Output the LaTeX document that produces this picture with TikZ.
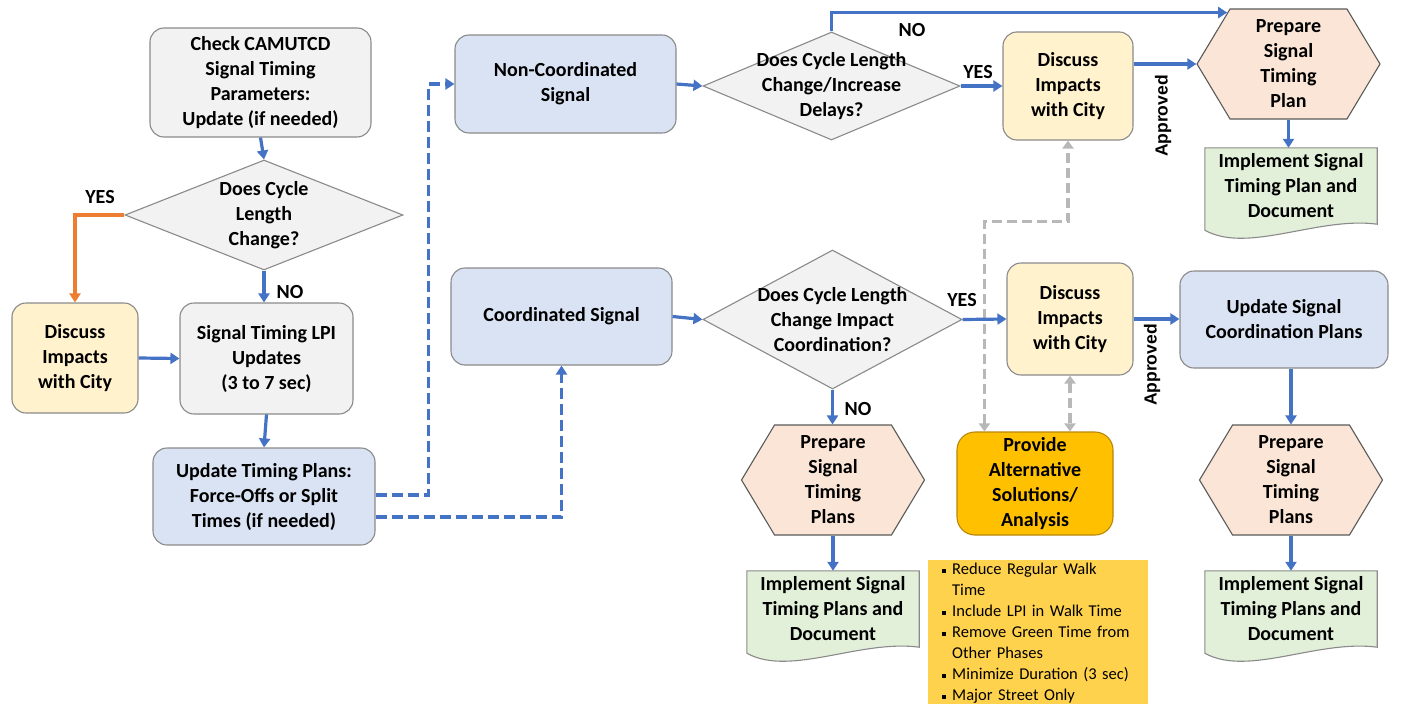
\documentclass[tikz,border=0pt]{standalone}
\usepackage{fontspec}
\setmainfont{Carlito}
\newfontfamily\arialfont{Liberation Sans}
\usepackage{xcolor}
\definecolor{flowblue}{HTML}{4472C4}
\definecolor{floworange}{HTML}{ED7D31}
\definecolor{edgegray}{HTML}{8A8A8A}
\definecolor{hexedge}{HTML}{5A5A5A}
\definecolor{fillgray}{HTML}{F2F2F2}
\definecolor{fillblue}{HTML}{DAE3F3}
\definecolor{fillcity}{HTML}{FFF2CC}
\definecolor{fillhex}{HTML}{FBE5D6}
\definecolor{filldoc}{HTML}{E2F0D9}
\definecolor{fillalt}{HTML}{FFC000}
\definecolor{altedge}{HTML}{B8860B}
\definecolor{fillnote}{HTML}{FFD24D}
\definecolor{dashgray}{HTML}{B8B8B8}
\usepackage{tikz}
\usetikzlibrary{shapes.geometric, shapes.symbols, arrows.meta, calc, backgrounds}

\newcommand\mainfnt{\bfseries\fontsize{20}{25}\selectfont}
\newcommand\notefnt{\fontsize{16.5}{21}\selectfont}
\newcommand\sqbul{\makebox[10pt][l]{\rule[2pt]{4pt}{4pt}}}
\newcommand\docoutline[1]{%
  \filldraw[docline] (#1.south east) -- (#1.north east) -- (#1.north west)
    -- ([yshift=-6pt]#1.south west)
    .. controls ([xshift=43pt,yshift=-30pt]#1.south west) and ([xshift=-59pt,yshift=8pt]#1.south east)
    .. (#1.south east) -- cycle;}

\begin{document}
\begin{tikzpicture}[x=1pt, y=-1pt,
    box/.style      = {rectangle, rounded corners=14pt, draw=edgegray, line width=1.1pt,
                       align=center, inner sep=0pt, font=\mainfnt},
    graybox/.style  = {box, fill=fillgray},
    bluebox/.style  = {box, fill=fillblue},
    citybox/.style  = {box, fill=fillcity},
    decision/.style = {diamond, draw=edgegray, fill=fillgray, line width=1.1pt, inner sep=0pt},
    dtext/.style    = {align=center, font=\mainfnt},
    prep/.style     = {signal, signal to=west and east, signal pointer angle=118,
                       draw=hexedge, fill=fillhex, line width=1.1pt, align=center,
                       inner sep=0pt, font=\mainfnt, minimum width=183, minimum height=110},
    docbox/.style   = {rectangle, align=center, inner sep=0pt, font=\mainfnt,
                       minimum width=172, minimum height=76},
    docline/.style  = {draw=edgegray, fill=filldoc, line width=1.1pt},
    altbox/.style   = {box, rounded corners=18pt, draw=altedge, fill=fillalt},
    notebox/.style  = {rectangle, fill=fillnote, align=left, inner xsep=14pt, inner ysep=3pt,
                       text width=192, minimum width=220, anchor=north west, font=\notefnt},
    lbl/.style      = {font=\mainfnt},
    apr/.style      = {font=\arialfont\bfseries\fontsize{17.5}{20}\selectfont, rotate=90},
    arr/.style      = {-{Triangle[length=9pt,width=11pt]}, line width=3.2pt, color=flowblue},
    yesarr/.style   = {arr, color=floworange},
    dasharr/.style  = {arr, dash pattern=on 11pt off 5pt},
    grayarr/.style  = {{Triangle[length=8pt,width=11pt]}-{Triangle[length=8pt,width=11pt]},
                       line width=3.2pt, color=dashgray, dash pattern=on 10pt off 5pt},
  ]
    \useasboundingbox (0,0) rectangle (1409,704);

    % ── left column ──────────────────────────────────────────
    \node[graybox, minimum width=221, minimum height=109] (chk) at (260.5, 82.5)
        {Check CAMUTCD\\Signal Timing\\Parameters:\\Update (if needed)};
    \node[decision, minimum width=278, minimum height=110] (cyc) at (264, 215)
        {}; \node[dtext] (cyctxt) at (cyc) {Does Cycle\\Length\\Change?};
    \node[citybox, minimum width=126, minimum height=110] (dsc1) at (75, 358)
        {Discuss\\Impacts\\with City};
    \node[graybox, minimum width=173, minimum height=111] (lpi) at (266.5, 358.5)
        {Signal Timing LPI\\Updates\\(3 to 7 sec)};
    \node[bluebox, minimum width=222, minimum height=97] (utp) at (264, 496.5)
        {Update Timing Plans:\\Force-Offs or Split\\Times (if needed)};

    \draw[arr] (chk.south) -- (cyc.north);
    \draw[arr] (cyc.south) -- (cyc.south |- lpi.north);
    \draw[yesarr] (cyc.west) -| (dsc1.north);
    \draw[arr] (dsc1.east) -- (lpi.west);
    \draw[arr] (lpi.south |- utp.north) ++(0,-33) -- (utp.north);
    \node[lbl] (no1)  at (290, 292) {NO};
    \node[lbl] (yes1) at (100, 197) {YES};

    % ── signal type ──────────────────────────────────────────
    \node[bluebox, minimum width=221, minimum height=98] (ncs) at (565.5, 84)
        {Non-Coordinated\\Signal};
    \node[bluebox, minimum width=221, minimum height=97] (cos) at (561.5, 316.5)
        {Coordinated Signal};
    \draw[dasharr] ([yshift=1.5pt]utp.east) -- ++(53,0) |- (ncs.west);
    \draw[dasharr] ([yshift=-20.5pt]utp.east) -| (cos.south);

    % ── non-coordinated branch ───────────────────────────────
    \node[decision, minimum width=257, minimum height=108] (dq2) at (831.5, 86) {};
    \node[dtext] (dq2txt) at (dq2) {Does Cycle Length\\Change/Increase\\Delays?};
    \node[citybox, minimum width=130, minimum height=108] (dsc2) at (1068, 86)
        {Discuss\\Impacts\\with City};
    \node[prep] (hx1) at (1288.5, 64) {Prepare\\Signal\\Timing\\Plan};
    \node[docbox] (doc1) at (1291, 186) {Implement Signal\\Timing Plan and\\Document};

    % ── coordinated branch ───────────────────────────────────
    \node[decision, minimum width=259, minimum height=139] (dq3) at (832.5, 319.5) {};
    \node[dtext] (dq3txt) at (dq3) {Does Cycle Length\\Change Impact\\Coordination?};
    \node[citybox, minimum width=126, minimum height=112] (dsc3) at (1070, 319)
        {Discuss\\Impacts\\with City};
    \node[bluebox, minimum width=208, minimum height=97] (ucp) at (1284, 319.5)
        {Update Signal\\Coordination Plans};
    \node[prep] (hx2) at (833, 480) {Prepare\\Signal\\Timing\\Plans};
    \node[prep] (hx3) at (1291, 480) {Prepare\\Signal\\Timing\\Plans};
    \node[docbox] (doc2) at (833, 609) {Implement Signal\\Timing Plans and\\Document};
    \node[docbox] (doc3) at (1291, 609) {Implement Signal\\Timing Plans and\\Document};
    \node[altbox, minimum width=156, minimum height=103] (alt) at (1035, 483.5)
        {Provide\\Alternative\\Solutions/\\Analysis};
    \node[notebox] (notes) at (928, 560)
        {\sqbul Reduce Regular Walk\\ \hspace*{10pt}Time\\
         \sqbul Include LPI in Walk Time\\
         \sqbul Remove Green Time from\\ \hspace*{10pt}Other Phases\\
         \sqbul Minimize Duration (3 sec)\\
         \sqbul Major Street Only};

    \begin{scope}[on background layer]
      \docoutline{doc1}
      \docoutline{doc2}
      \docoutline{doc3}
    \end{scope}

    % gray feedback
    \draw[grayarr] ([xshift=28pt]alt.north west) -- ++(0,-210) -| (dsc2.south);
    \draw[grayarr] (dsc3.south) -- (dsc3.south |- alt.north);

    \draw[arr] (ncs.east) -- (dq2.west);
    \draw[arr] (dq2.east) -- (dsc2.west);
    \draw[arr] (dq2.north) |- (hx1.140);
    \draw[arr] (dsc2.east |- hx1.west) -- (hx1.west);
    \draw[arr] (hx1.south) -- (doc1.north -| hx1.south);
    \node[lbl] (no2)  at (912, 30) {NO};
    \node[lbl] (yes2) at (978, 72) {YES};
    \node[apr] (apr1) at (1163, 116) {Approved};

    \draw[arr] (cos.east) -- (dq3.west);
    \draw[arr] (dq3.east) -- (dsc3.west);
    \draw[arr] (dsc3.east) -- (dsc3.east -| ucp.west);
    \draw[arr] (ucp.south -| hx3.north) -- (hx3.north);
    \draw[arr] (dq3.south) -- (dq3.south |- hx2.north);
    \draw[arr] (hx2.south) -- (doc2.north);
    \draw[arr] (hx3.south) -- (doc3.north);
    \node[lbl] (yes3) at (962, 300) {YES};
    \node[lbl] (no3)  at (858, 409) {NO};
    \node[apr] (apr2) at (1152, 365) {Approved};

\end{tikzpicture}
\end{document}
